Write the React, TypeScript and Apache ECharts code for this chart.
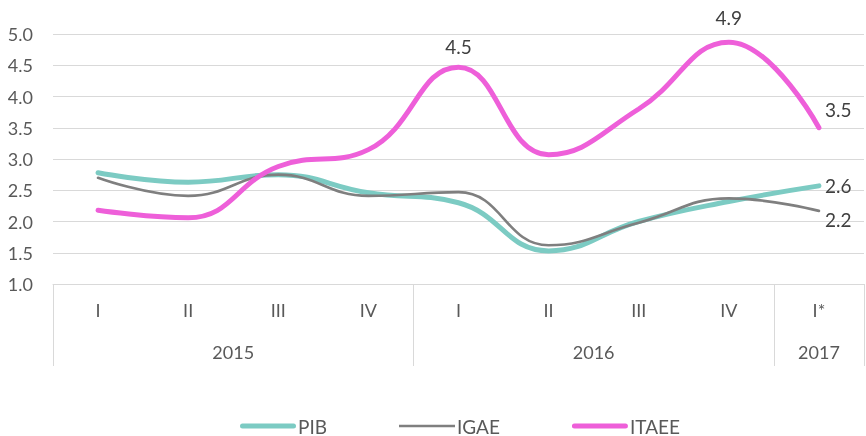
import React, { useEffect, useRef } from "react";
import * as echarts from "echarts";

const quarters = ["I", "II", "III", "IV", "I", "II", "III", "IV", "I*"];
const yearLabels: Record<number, string> = { 4: "2015", 12: "2016", 17: "2017" };
const groupStarts = [0, 4, 8];

const pib = [2.78, 2.63, 2.75, 2.46, 2.3, 1.53, 2.0, 2.32, 2.57];
const igae = [2.7, 2.41, 2.75, 2.41, 2.47, 1.62, 1.98, 2.37, 2.17];
const itaee = [2.18, 2.06, 2.88, 3.15, 4.47, 3.07, 3.8, 4.87, 3.5];

const ITAEE_LABELED = [4, 7, 8];

export default function App() {
  const ref = useRef<HTMLDivElement>(null);
  useEffect(() => {
    if (!ref.current) return;
    const chart = echarts.init(ref.current, undefined, { renderer: "svg" });
    const font = "Lato, 'Open Sans', sans-serif";
    const labelStyle = { color: "#404040", fontSize: 19, fontFamily: font };
    const fmt = (p: any) => Number(p.value).toFixed(1);
    const common = {
      type: "line",
      smooth: 0.45,
      symbol: "circle",
      symbolSize: 0,
      showSymbol: true,
    };
    chart.setOption({
      animation: false,
      textStyle: { fontFamily: font },
      grid: { left: 53, right: 2, top: 34, bottom: 152, containLabel: false },
      legend: {
        left: 235,
        top: 411,
        itemWidth: 56,
        itemHeight: 12,
        itemGap: 72,
        symbolKeepAspect: true,
        textStyle: { color: "#595959", fontSize: 19, lineHeight: 20, fontFamily: font, padding: [0, 0, 0, -3] },
        data: [
          { name: "PIB", icon: "path://M2.5,0 H53.5 A2.5,2.5 0 0 1 53.5,5 H2.5 A2.5,2.5 0 0 1 2.5,0 Z" },
          { name: "IGAE", icon: "path://M0,0 H56 V2.6 H0 Z" },
          { name: "ITAEE", icon: "path://M2.5,0 H53.5 A2.5,2.5 0 0 1 53.5,5 H2.5 A2.5,2.5 0 0 1 2.5,0 Z" },
        ],
      },
      xAxis: [
        {
          type: "category",
          data: quarters,
          boundaryGap: true,
          position: "bottom",
          axisLine: { show: true, lineStyle: { color: "#D9D9D9", width: 1 } },
          axisTick: {
            show: true,
            interval: (i: number) => groupStarts.includes(i),
            length: 82,
            lineStyle: { color: "#D9D9D9", width: 1 },
          },
          axisLabel: { color: "#595959", fontSize: 18, margin: 17, fontFamily: font },
          splitLine: { show: false },
        },
        {
          type: "value",
          min: 0,
          max: 18,
          interval: 1,
          position: "bottom",
          axisLine: { show: false },
          axisTick: { show: false },
          splitLine: { show: false },
          axisLabel: {
            color: "#595959",
            fontSize: 18,
            margin: 59,
            fontFamily: font,
            showMinLabel: false,
            showMaxLabel: false,
            formatter: (v: number) => yearLabels[v] ?? "",
          },
        },
      ],
      yAxis: {
        type: "value",
        min: 1,
        max: 5,
        interval: 0.5,
        axisLine: { show: false },
        axisTick: { show: false },
        axisLabel: {
          color: "#595959",
          fontSize: 18,
          margin: 20,
          fontFamily: font,
          formatter: (v: number) => v.toFixed(1),
        },
        splitLine: { lineStyle: { color: "#D9D9D9", width: 1 } },
      },
      series: [
        {
          ...common,
          name: "PIB",
          lineStyle: { color: "#7CCBC3", width: 5, cap: "round" },
          itemStyle: { color: "#7CCBC3" },
          z: 2,
          data: pib.map((v, i) =>
            i === pib.length - 1
              ? { value: v, label: { show: true, position: "right", distance: 6, formatter: fmt, ...labelStyle } }
              : v
          ),
        },
        {
          ...common,
          name: "IGAE",
          lineStyle: { color: "#7F7F7F", width: 2.6, cap: "round" },
          itemStyle: { color: "#7F7F7F" },
          z: 3,
          data: igae.map((v, i) =>
            i === igae.length - 1
              ? { value: v, label: { show: true, position: "right", distance: 6, offset: [0, 9], formatter: fmt, ...labelStyle } }
              : v
          ),
        },
        {
          ...common,
          name: "ITAEE",
          lineStyle: { color: "#EE5FD9", width: 5, cap: "round" },
          itemStyle: { color: "#EE5FD9" },
          z: 4,
          data: itaee.map((v, i) =>
            ITAEE_LABELED.includes(i)
              ? {
                  value: v,
                  label: {
                    show: true,
                    position: i === 8 ? "right" : "top",
                    distance: i === 8 ? 6 : i === 7 ? 15 : 11,
                    offset: i === 8 ? [0, -18] : [0, 0],
                    formatter: fmt,
                    ...labelStyle,
                  },
                }
              : v
          ),
        },
      ],
    });
    return () => chart.dispose();
  }, []);
  return (
    <div
      ref={ref}
      style={{ position: "fixed", left: 0, top: 0, width: 866, height: 436 }}
    />
  );
}
